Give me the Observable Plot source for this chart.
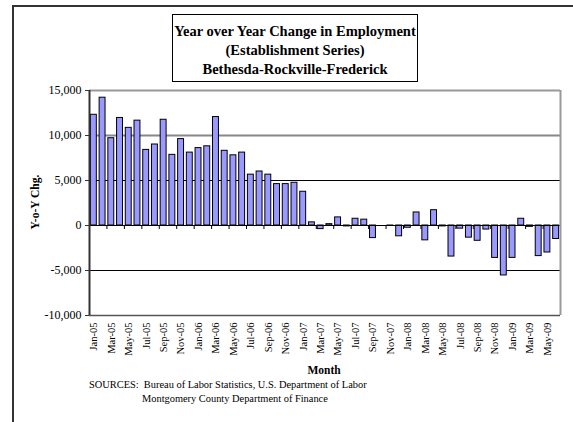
<!DOCTYPE html>
<html>
<head>
<meta charset="utf-8">
<script src="https://cdn.jsdelivr.net/npm/d3@7"></script>
<script src="https://cdn.jsdelivr.net/npm/@observablehq/plot@0.6"></script>
<style>
  html, body { margin: 0; padding: 0; background: #fff; }
  #page { position: relative; width: 573px; height: 422px; overflow: hidden; background: #fff;
          font-family: "Liberation Serif", "Times New Roman", serif; color: #000; }
  #frame { position: absolute; left: 12px; top: 5px; width: 700px; height: 600px; border: 2px solid #333; }
  #chart { position: absolute; left: 0; top: 0; }
  #titlebox { position: absolute; left: 172px; top: 14px; width: 246px; height: 68px; border: 1px solid #000;
              background: #fff; text-align: center; font-weight: bold; font-size: 14.5px; line-height: 19px;
              padding-top: 7px; box-sizing: border-box; white-space: nowrap; }
  #ylabel { position: absolute; left: 35px; top: 202px; transform: translate(-50%, -50%) rotate(-90deg);
            font-weight: bold; font-size: 11.5px; white-space: nowrap; }
  #xlabel { position: absolute; left: 324px; top: 370px; transform: translate(-50%, -50%);
            font-weight: bold; font-size: 11.5px; }
  .src { position: absolute; font-size: 10.4px; white-space: nowrap; }
</style>
</head>
<body>
<div id="page">
  <div id="frame"></div>
  <div id="chart"></div>
  <div id="titlebox">Year over Year Change in Employment<br>(Establishment Series)<br>Bethesda-Rockville-Frederick</div>
  <div id="ylabel">Y-o-Y Chg.</div>
  <div id="xlabel">Month</div>
  <div class="src" style="left:89px; top:379px;">SOURCES:&nbsp; Bureau of Labor Statistics, U.S. Department of Labor</div>
  <div class="src" style="left:142px; top:393px;">Montgomery County Department of Finance</div>
</div>
<script>
// Monthly categories, Jan-05 through Jun-09
const months = [
  "Jan-05","Feb-05","Mar-05","Apr-05","May-05","Jun-05","Jul-05","Aug-05","Sep-05","Oct-05","Nov-05","Dec-05",
  "Jan-06","Feb-06","Mar-06","Apr-06","May-06","Jun-06","Jul-06","Aug-06","Sep-06","Oct-06","Nov-06","Dec-06",
  "Jan-07","Feb-07","Mar-07","Apr-07","May-07","Jun-07","Jul-07","Aug-07","Sep-07","Oct-07","Nov-07","Dec-07",
  "Jan-08","Feb-08","Mar-08","Apr-08","May-08","Jun-08","Jul-08","Aug-08","Sep-08","Oct-08","Nov-08","Dec-08",
  "Jan-09","Feb-09","Mar-09","Apr-09","May-09","Jun-09"
];

// Year-over-year change in employment (jobs)
const yoyChange = [
  12300, 14200, 9700, 11950, 10850, 11650, 8400, 9000, 11750, 7850, 9600, 8100,
  8600, 8800, 12050, 8300, 7800, 8100, 5650, 6000, 5650, 4600, 4600, 4750,
  3750, 350, -400, 150, 900, -100, 750, 650, -1400, 0, -50, -1200,
  -250, 1450, -1650, 1700, -100, -3450, -350, -1350, -1700, -450, -3600, -5550,
  -3600, 750, -150, -3400, -3000, -1500
];

// Axis ticks
const yTicks = [-10000, -5000, 0, 5000, 10000, 15000];
const blackGrid = [-5000, 5000];
const grayGrid = [10000];

const data = months.map((m, i) => ({i, month: m, value: yoyChange[i]}));
const labelIdx = months.map((m, i) => i).filter(i => i % 2 === 0);   // every other month is labelled
const boundaryTicks = d3.range(2, months.length, 2);                 // category boundaries between label pairs

// short downward tick drawn at the zero line
const tickDown = { draw(ctx) { ctx.moveTo(0, 0); ctx.lineTo(0, 3.5); } };

// thousands separator with a plain hyphen for negatives
const fmt = d3.formatLocale({ thousands: ",", grouping: [3], currency: ["$", ""], minus: "-" }).format(",");

const chart = Plot.plot({
  width: 573,
  height: 422,
  marginTop: 90,
  marginBottom: 107,
  marginLeft: 89,
  marginRight: 13,
  style: { fontFamily: '"Liberation Serif", "Times New Roman", serif', background: "transparent", color: "#000" },
  x: { domain: [0, months.length] },
  y: { domain: [-10000, 15000] },
  marks: [
    Plot.ruleY(grayGrid, { stroke: "#888", strokeWidth: 2 }),
    Plot.ruleY(blackGrid, { stroke: "#000", strokeWidth: 1 }),
    Plot.rect(data, {
      x1: "i", x2: d => d.i + 1, y1: 0, y2: "value",
      fill: "#9999ff", stroke: "#000", strokeWidth: 1,
      insetLeft: 1.4, insetRight: 1.4
    }),
    Plot.ruleY([0], { stroke: "#000", strokeWidth: 1 }),
    Plot.dot(boundaryTicks, { x: d => d, y: () => 0, symbol: tickDown, r: 3, stroke: "#000", fill: "none", strokeWidth: 1 }),
    Plot.ruleY([15000], { stroke: "#999", strokeWidth: 2 }),
    Plot.ruleX([months.length], { stroke: "#999", strokeWidth: 2 }),
    Plot.ruleY([-10000], { stroke: "#555", strokeWidth: 1.5 }),
    Plot.ruleX([0], { stroke: "#333", strokeWidth: 2 }),
    Plot.axisY({
      ticks: yTicks, tickFormat: fmt, tickSize: 4, tickPadding: 4,
      fontSize: 12, label: null, stroke: "#333"
    }),
    Plot.axisX({
      ticks: labelIdx.map(i => i + 0.5), tickFormat: d => months[Math.round(d - 0.5)],
      tickRotate: -90, tickSize: 0, tickPadding: 7, fontSize: 10.5, label: null
    })
  ]
});

document.getElementById("chart").appendChild(chart);
</script>
</body>
</html>
